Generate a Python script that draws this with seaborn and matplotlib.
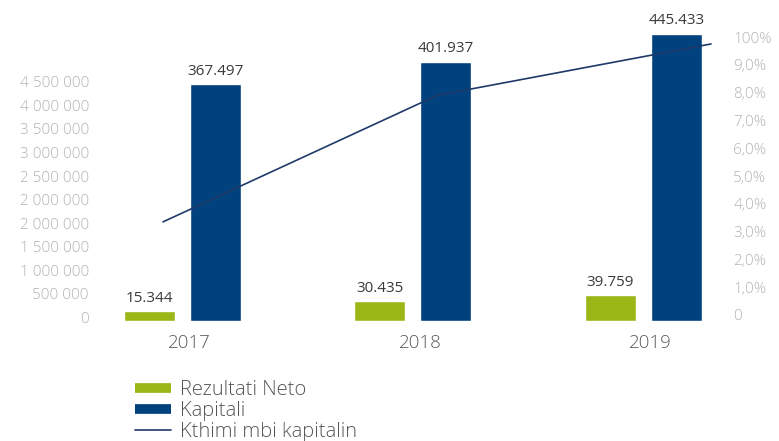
import matplotlib
matplotlib.use("Agg")
import matplotlib.pyplot as plt
import seaborn as sns
import pandas as pd
from matplotlib.lines import Line2D
from matplotlib.transforms import ScaledTranslation

# ---- data ----
years = ["2017", "2018", "2019"]
line_years = [2017, 2018, 2019]
rezultati_neto = [15.344, 30.435, 39.759]
kapitali = [367.497, 401.937, 445.433]
kthimi_pct = [3.35, 7.9, 9.75]
left_tick_labels = ["0", "500 000", "1 000 000", "1 500 000", "2 000 000", "2 000 000",
                    "2 500 000", "3 000 000", "3 500 000", "4 000 000", "4 500 000"]
right_tick_labels = ["0", "1,0%", "2,0%", "3,0%", "4,0%", "5,0%", "6,0%", "7,0%",
                     "8,0%", "9,0%", "100%"]
series_names = ["Rezultati Neto", "Kapitali", "Kthimi mbi kapitalin"]

GREEN = "#9ab617"
BLUE = "#00417e"
NAVY = "#1f3a6a"
LIGHT = "#b4b4b4"

sns.set_theme(style="white")
plt.rcParams["font.family"] = ["Open Sans", "Lato", "DejaVu Sans"]

fig = plt.figure(figsize=(7.79, 4.41), dpi=100)
rect = [100 / 779, 120 / 441, 625 / 779, 290 / 441]

# left decorative axis (drawn first, underneath)
axL = fig.add_axes(rect, frameon=False)
axL.set_ylim(-0.17 * 500000, 12.17 * 500000)
axL.set_yticks([i * 500000 for i in range(len(left_tick_labels))])
axL.set_yticklabels(left_tick_labels)
axL.set_xticks([])
axL.tick_params(axis="y", length=0, pad=8, labelsize=11, labelcolor=LIGHT)
for lab in axL.get_yticklabels():
    lab.set_fontweight("light")

ax = fig.add_axes(rect, frameon=False)
ax.patch.set_visible(False)
df = pd.DataFrame({
    "Viti": years * 2,
    "Vlera": rezultati_neto + kapitali,
    "Seria": [series_names[0]] * len(years) + [series_names[1]] * len(years),
})
sns.barplot(data=df, x="Viti", y="Vlera", hue="Seria", palette=[GREEN, BLUE],
            width=0.5727, gap=0.227, saturation=1, errorbar=None, legend=False, ax=ax)
ax.set_xlim(-0.358, 2.354)
ax.set_ylim(0, 450)
ax.set_xlabel("")
ax.set_ylabel("")
ax.set_yticks([])
ax.tick_params(axis="x", length=0, pad=9, labelsize=13.5, labelcolor="#5a5a5a")
off = ScaledTranslation(7 / 100, 0, fig.dpi_scale_trans)
for lab in ax.get_xticklabels():
    lab.set_transform(lab.get_transform() + off)
    lab.set_fontweight("light")

for cont in ax.containers:
    ax.bar_label(cont, labels=[f"{b.get_height():.3f}" for b in cont], padding=4,
                 fontsize=11, color="#3a3a3a", clip_on=False)

# line axis (secondary)
axR = fig.add_axes(rect, frameon=False)
sns.lineplot(x=line_years, y=kthimi_pct, color=NAVY, linewidth=1.2, ax=axR)
axR.set_xlim(2017 - 0.23, 2017 + 2.051)
axR.set_ylim(-0.216, 10.216)
axR.set_xticks([])
axR.yaxis.tick_right()
axR.set_yticks(list(range(len(right_tick_labels))))
axR.set_yticklabels(right_tick_labels)
axR.tick_params(axis="y", length=0, pad=6, labelsize=11, labelcolor=LIGHT)
axR.patch.set_visible(False)
for lab in axR.get_yticklabels():
    lab.set_fontweight("light")

handles = [
    Line2D([], [], color=GREEN, lw=7, solid_capstyle="butt"),
    Line2D([], [], color=BLUE, lw=7, solid_capstyle="butt"),
    Line2D([], [], color=NAVY, lw=1.2),
]
leg = fig.legend(handles, series_names, loc="upper left",
                 bbox_to_anchor=(135 / 779, (441 - 380) / 441),
                 frameon=False, handlelength=1.8, handletextpad=0.45,
                 labelspacing=0.05, borderaxespad=0, borderpad=0,
                 prop={"weight": "light", "size": 14.5})
for t in leg.get_texts():
    t.set_color("#555555")

fig.savefig("out.png", dpi=100)
